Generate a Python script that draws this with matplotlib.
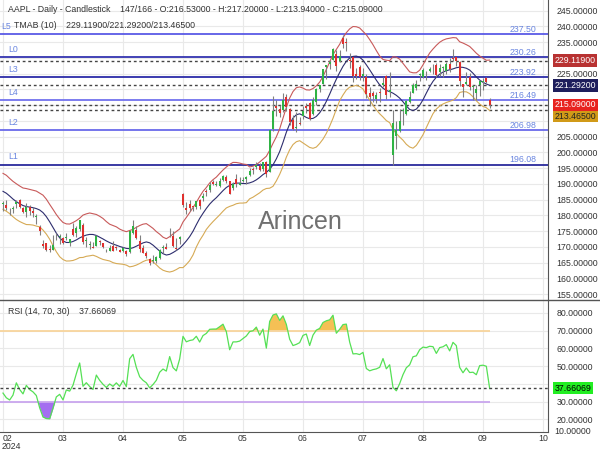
import numpy as np
import pandas as pd
import matplotlib
matplotlib.use('Agg')
import matplotlib.pyplot as plt
from matplotlib.lines import Line2D
from matplotlib.ticker import FuncFormatter

plt.rcParams['font.family'] = ['Liberation Sans', 'DejaVu Sans']

# AAPL daily bars. The first 19 bars sit left of the visible window (166 total, 147 shown)
n_hidden = 19
opens = [
    189.33, 192.30, 195.02, 195.42, 195.22, 194.27, 192.01, 190.94, 187.04, 183.99,
    179.86, 188.15, 186.86, 190.64, 189.39, 188.65, 188.42, 185.77, 185.32,
    183.55, 183.42, 181.79, 181.94, 183.48, 185.01, 182.24, 181.10, 182.51, 181.27,
    179.55, 176.15, 170.76, 171.06, 169.15, 169.00, 172.94, 173.15, 172.77, 172.91,
    171.17, 175.57, 174.34, 175.72, 177.05, 171.76, 170.57, 170.00, 170.41, 171.75,
    171.19, 169.08, 168.79, 170.29, 169.59, 169.03, 168.70, 168.80, 168.34, 174.26,
    175.36, 171.75, 169.61, 168.03, 166.21, 165.52, 165.35, 166.54, 169.53, 169.88,
    173.37, 173.33, 169.58, 172.51, 186.65, 182.35, 183.45, 182.85, 182.56, 184.90,
    185.44, 187.51, 187.91, 190.47, 189.51, 189.33, 191.09, 192.27, 190.98, 188.82,
    191.51, 189.61, 190.76, 191.44, 192.90, 194.64, 195.40, 195.69, 194.65, 196.90,
    193.65, 207.37, 214.74, 213.85, 213.37, 217.59, 213.93, 210.39, 207.72, 209.15,
    211.50, 214.69, 215.77, 212.09, 216.15, 220.00, 221.65, 227.09, 227.93, 229.30,
    231.39, 228.92, 236.48, 235.00, 229.45, 230.28, 224.82, 227.01, 224.37, 224.00,
    218.93, 218.70, 216.96, 219.19, 221.44, 224.37, 219.15, 199.09, 205.30, 206.90,
    213.11, 212.10, 216.07, 219.01, 220.57, 224.60, 223.92, 225.72, 225.77, 226.52,
    227.79, 225.66, 226.76, 226.00, 227.92, 230.10, 230.19, 228.55, 221.66, 221.63,
    223.95, 220.82, 218.92, 221.46, 222.50, 223.58, 216.53]
highs = [
    191.95, 195.33, 195.75, 196.38, 196.27, 194.76, 192.20, 191.80, 187.10, 186.95,
    187.33, 189.25, 189.31, 191.05, 189.54, 189.99, 188.67, 186.21, 185.53,
    184.49, 184.85, 182.43, 182.89, 184.96, 185.04, 182.76, 183.92, 183.12, 182.57,
    180.53, 176.90, 172.04, 171.24, 170.73, 173.70, 174.38, 174.03, 173.19, 174.31,
    172.62, 177.71, 176.61, 178.67, 177.49, 173.05, 171.94, 171.42, 173.60, 172.23,
    171.25, 169.34, 170.68, 171.92, 170.39, 169.20, 170.08, 169.09, 175.46, 178.36,
    176.63, 173.76, 170.65, 168.64, 166.40, 167.26, 167.05, 169.30, 170.61, 171.34,
    176.03, 174.99, 172.71, 173.42, 187.00, 184.20, 184.90, 183.07, 184.66, 185.09,
    187.10, 188.30, 190.65, 191.10, 190.81, 191.92, 192.73, 192.82, 191.00, 190.58,
    193.00, 192.25, 192.18, 192.57, 194.99, 195.32, 196.90, 196.50, 196.94, 197.30,
    207.16, 218.00, 216.75, 215.17, 218.95, 218.63, 214.24, 211.89, 212.70, 211.38,
    214.86, 215.74, 216.07, 217.51, 220.38, 221.55, 226.45, 227.85, 229.40, 233.08,
    232.39, 232.64, 237.23, 236.27, 231.46, 230.44, 226.80, 227.78, 226.94, 224.80,
    220.85, 219.49, 219.30, 220.33, 223.82, 224.48, 225.60, 213.50, 209.99, 213.64,
    214.20, 216.78, 219.51, 221.89, 223.03, 225.35, 226.83, 225.99, 227.17, 227.98,
    228.34, 228.22, 227.28, 228.85, 229.86, 232.92, 230.40, 229.00, 221.78, 225.48,
    225.24, 221.27, 221.48, 223.09, 223.55, 224.04, 217.20]
lows = [
    188.82, 192.26, 193.83, 194.34, 193.11, 191.94, 189.58, 187.47, 184.35, 183.82,
    179.25, 185.84, 186.77, 188.61, 187.35, 188.00, 186.79, 183.51, 182.44,
    181.35, 181.67, 180.00, 180.66, 182.46, 182.23, 180.65, 179.56, 180.13, 179.53,
    177.38, 173.79, 169.62, 168.68, 168.49, 168.94, 172.05, 171.01, 170.76, 172.05,
    170.29, 173.52, 173.03, 175.09, 170.84, 170.06, 169.45, 169.58, 170.11, 170.51,
    169.48, 168.23, 168.58, 168.82, 168.95, 168.24, 168.35, 167.11, 168.16, 174.21,
    172.50, 168.27, 168.00, 166.55, 164.08, 164.77, 164.92, 166.21, 168.15, 169.18,
    173.10, 170.00, 169.11, 170.89, 182.66, 180.42, 181.32, 181.45, 182.11, 182.13,
    184.62, 186.29, 187.37, 189.66, 189.18, 189.01, 190.92, 190.27, 186.63, 188.04,
    189.10, 189.51, 190.63, 189.91, 192.52, 193.03, 194.87, 194.17, 194.14, 192.15,
    193.63, 206.90, 211.60, 211.30, 212.72, 213.00, 208.85, 207.11, 206.59, 208.61,
    210.64, 212.35, 210.30, 211.92, 215.10, 219.03, 221.65, 223.25, 226.37, 229.25,
    225.77, 228.68, 233.09, 232.33, 226.64, 222.27, 223.28, 223.09, 222.68, 217.13,
    214.62, 216.01, 215.75, 216.12, 220.63, 217.02, 217.71, 196.00, 201.07, 206.39,
    208.83, 211.97, 215.60, 219.01, 219.70, 222.76, 223.65, 223.04, 225.45, 225.05,
    223.90, 224.33, 223.89, 224.89, 225.68, 228.88, 227.48, 221.17, 217.48, 221.52,
    219.77, 216.71, 216.73, 217.89, 219.82, 221.91, 213.94]
closes = [
    191.56, 193.89, 195.18, 194.50, 194.17, 192.42, 191.73, 188.04, 184.40, 186.86,
    185.85, 187.68, 189.30, 189.41, 188.32, 188.85, 187.15, 185.04, 184.15,
    183.86, 182.31, 181.56, 182.32, 184.37, 182.52, 181.16, 182.63, 181.42, 180.75,
    179.66, 175.10, 170.12, 169.12, 169.00, 170.73, 172.75, 173.23, 171.13, 173.00,
    172.62, 173.72, 176.08, 178.67, 171.37, 172.28, 170.85, 169.71, 173.31, 171.48,
    170.03, 168.84, 169.65, 168.82, 169.58, 168.45, 169.67, 167.78, 175.04, 176.55,
    172.69, 169.38, 168.00, 167.04, 165.00, 165.84, 166.90, 169.02, 169.89, 169.30,
    173.50, 170.33, 169.30, 173.03, 183.38, 181.71, 182.40, 182.74, 184.57, 183.05,
    186.28, 187.43, 189.72, 189.84, 189.87, 191.04, 192.35, 190.90, 186.88, 189.98,
    189.99, 190.29, 191.29, 192.25, 194.03, 194.35, 195.87, 194.48, 196.89, 193.12,
    207.15, 213.07, 214.24, 212.49, 216.67, 214.29, 209.68, 207.49, 208.14, 209.07,
    213.25, 214.10, 210.62, 216.75, 220.27, 221.55, 226.34, 227.82, 228.68, 232.98,
    227.57, 230.54, 234.40, 234.82, 228.88, 224.18, 224.31, 223.96, 225.01, 218.54,
    217.49, 217.96, 218.24, 218.80, 222.08, 218.36, 219.86, 209.27, 207.23, 209.82,
    213.31, 216.24, 217.53, 221.27, 221.72, 224.72, 226.05, 225.89, 226.51, 226.40,
    224.53, 226.84, 227.18, 228.03, 226.49, 229.79, 229.00, 222.77, 220.85, 222.38,
    220.82, 220.91, 220.11, 222.66, 222.77, 222.50, 215.09]

levels = [237.50, 230.26, 223.92, 216.49, 206.98, 196.08]
level_names = ['L5', 'L0', 'L3', 'L4', 'L2', 'L1']
level_colors = ['#5a5ae6', '#3434b0', '#2c2ca8', '#7272ee', '#6a6aea', '#2a2a9c']

tmab_last = [229.119, 221.292, 213.465]   # upper / middle / lower
last_close = 215.09
rsi_last = 37.66069
month_labels = ['02', '03', '04', '05', '05', '06', '07', '08', '09', '10']

# TMA bands: TMA(10) = SMA5 of SMA6, width from a 20 bar ATR
o = pd.Series(opens)
h = pd.Series(highs)
l = pd.Series(lows)
c = pd.Series(closes)
tma = c.rolling(6, min_periods=1).mean().rolling(5, min_periods=1).mean()
pc = c.shift(1).fillna(o)
tr = pd.concat([h - l, (h - pc).abs(), (l - pc).abs()], axis=1).max(axis=1)
atr = tr.rolling(20, min_periods=1).mean()
upper = tma + 1.8 * atr
lower = tma - 1.8 * atr

# Wilder RSI(14), seeded with a plain average of the first 14 changes
diff = np.diff(np.array(closes))
gains = np.clip(diff, 0, None)
losses = np.clip(-diff, 0, None)
rsi_full = np.full(len(closes), np.nan)
ag = gains[:14].mean()
al = losses[:14].mean()
rsi_full[14] = 100 - 100 / (1 + ag / al)
for i in range(14, len(diff)):
    ag = (ag * 13 + gains[i]) / 14
    al = (al * 13 + losses[i]) / 14
    rsi_full[i + 1] = 100 - 100 / (1 + ag / al)

o, h, l, c = o[n_hidden:].values, h[n_hidden:].values, l[n_hidden:].values, c[n_hidden:].values
upper, tma, lower = upper[n_hidden:].values, tma[n_hidden:].values, lower[n_hidden:].values
rsi = rsi_full[n_hidden:]
x = np.arange(len(c))

fig = plt.figure(figsize=(6, 4.5), dpi=100)
ax = fig.add_axes([0, 1 - 300 / 450, 548 / 600, 300 / 450])
ax2 = fig.add_axes([0, 1 - 432 / 450, 548 / 600, 132 / 450])

txt = '#333333'
fs = 6.3
xlim = (-0.9, 163.5)


def price_fmt(v, pos):
    # labels that sit under the value boxes are hidden
    if round(v) in (230, 220, 215, 210):
        return ''
    return f'{v:.5f}'


def rsi_fmt(v, pos):
    if round(v) == 40:
        return ''
    return f'{v:.5f}'


# ---- price panel
ax.set_xlim(*xlim)
ax.set_ylim(153.1, 248.4)
ax.set_yticks(np.arange(155, 250, 5))
ax.set_xticks(np.arange(0, 163, 18))
ax.grid(True, color='#e9e9e9', lw=0.8)
ax.set_axisbelow(True)
ax.yaxis.tick_right()
ax.tick_params(axis='y', length=0, pad=6, labelsize=fs, labelcolor=txt)
ax.tick_params(axis='x', length=0, labelbottom=False)
ax.yaxis.set_major_formatter(FuncFormatter(price_fmt))
for s in ['top', 'left', 'bottom']:
    ax.spines[s].set_visible(False)
ax.spines['right'].set_color('#555555')

for lv, nm, col in zip(levels, level_names, level_colors):
    ax.axhline(lv, color=col, lw=1.3, zorder=2)
    lx = -0.65 if nm == 'L5' else 1.5
    ax.text(lx, lv + 2.5, nm, color='#6a86e0', fontsize=fs, va='center', ha='left')
    ax.text(156, lv + 1.6, f'{lv:.2f}', color='#6a86e0', fontsize=fs, va='center', ha='center')

for v in tmab_last + [last_close]:
    ax.axhline(v, color='#444444', lw=1, ls=(0, (2, 2)), zorder=2)

ax.plot(x, upper, color='#c85a5a', lw=0.8, zorder=3)
ax.plot(x, tma, color='#2d2d6e', lw=0.8, zorder=3)
ax.plot(x, lower, color='#d6aa55', lw=0.8, zorder=3)

cols = np.where(c >= o, '#2fb344', '#e0302e')
ax.vlines(x, l, h, color='#808080', lw=0.8, zorder=4)
ax.bar(x, np.maximum(np.abs(c - o), 0.2), bottom=np.minimum(o, c), width=0.6,
       color=cols, zorder=5)

ax.text(300 / 548, 1 - 222 / 300, 'Arincen', transform=ax.transAxes, fontsize=18,
        color='#707070', ha='center', va='center', zorder=6)

ax.text(8 / 548, 1 - 10 / 300, 'AAPL - Daily - Candlestick    147/166 - O:216.53000 - H:217.20000'
        ' - L:213.94000 - C:215.09000', transform=ax.transAxes, fontsize=fs, color=txt, va='center')
ax.text(13.5 / 548, 1 - 25 / 300, 'TMAB (10)    229.11900/221.29200/213.46500',
        transform=ax.transAxes, fontsize=fs, color=txt, va='center')

# value boxes on the price scale; the lowest one is pushed down so it doesn't cover the close box
box_vals = tmab_last + [last_close]
box_y = [229.119, 221.292, 211.55, 215.09]
box_cols = [('#b83232', 'white'), ('#1e1e5c', 'white'), ('#d19a18', '#222222'), ('#e8231f', 'white')]
for v, yy, (bg, fg) in zip(box_vals, box_y, box_cols):
    ax.text(1.012, yy, f'{v:.5f}', transform=ax.get_yaxis_transform(), fontsize=fs, color=fg,
            va='center', ha='left', clip_on=False, zorder=10,
            bbox=dict(boxstyle='square,pad=0.2', fc=bg, ec='none'))

# ---- RSI panel
ax2.set_xlim(*xlim)
ax2.set_ylim(12.9, 87.3)
ax2.set_yticks(np.arange(20, 90, 10))
ax2.set_xticks(np.arange(0, 163, 18))
ax2.set_xticklabels(month_labels)
ax2.get_xticklabels()[0].set_ha('left')
ax2.grid(True, color='#e9e9e9', lw=0.8)
ax2.set_axisbelow(True)
ax2.yaxis.tick_right()
ax2.tick_params(axis='y', length=0, pad=6, labelsize=fs, labelcolor=txt)
ax2.tick_params(axis='x', length=0, pad=1.5, labelsize=fs, labelcolor=txt)
ax2.yaxis.set_major_formatter(FuncFormatter(rsi_fmt))
for s in ['top', 'left']:
    ax2.spines[s].set_visible(False)
ax2.spines['right'].set_color('#555555')
ax2.spines['bottom'].set_color('#555555')
ax2.text(1.012, 0.0, '10.00000', transform=ax2.transAxes, fontsize=fs, color=txt, va='center')
ax2.text(0.002, -0.113, '2024', transform=ax2.transAxes, fontsize=fs, color=txt, va='center')

ax2.hlines([70], -0.9, x[-1], color='#f8d59c', lw=1.3)
ax2.hlines([30], -0.9, x[-1], color='#c9a6ee', lw=1.3)
ax2.fill_between(x, rsi, 70, where=rsi > 70, interpolate=True, color='#f5c055', lw=0)
ax2.fill_between(x, rsi, 30, where=rsi < 30, interpolate=True, color='#a46ef0', lw=0)
ax2.plot(x, rsi, color='#55e055', lw=0.9)
ax2.axhline(rsi_last, color='#444444', lw=1, ls=(0, (2, 2)))
ax2.text(8 / 548, 1 - 12 / 132, f'RSI (14, 70, 30)    {rsi_last:.5f}', transform=ax2.transAxes,
         fontsize=fs, color=txt, va='center')
ax2.text(1.012, rsi_last, f'{rsi_last:.5f}', transform=ax2.get_yaxis_transform(), fontsize=fs,
         color='black', va='center', ha='left', clip_on=False, zorder=10,
         bbox=dict(boxstyle='square,pad=0.2', fc='#22ee22', ec='none'))

fig.add_artist(Line2D([0, 1], [1 - 300 / 450, 1 - 300 / 450], color='#555555', lw=1))

fig.savefig('out.png', dpi=100)
